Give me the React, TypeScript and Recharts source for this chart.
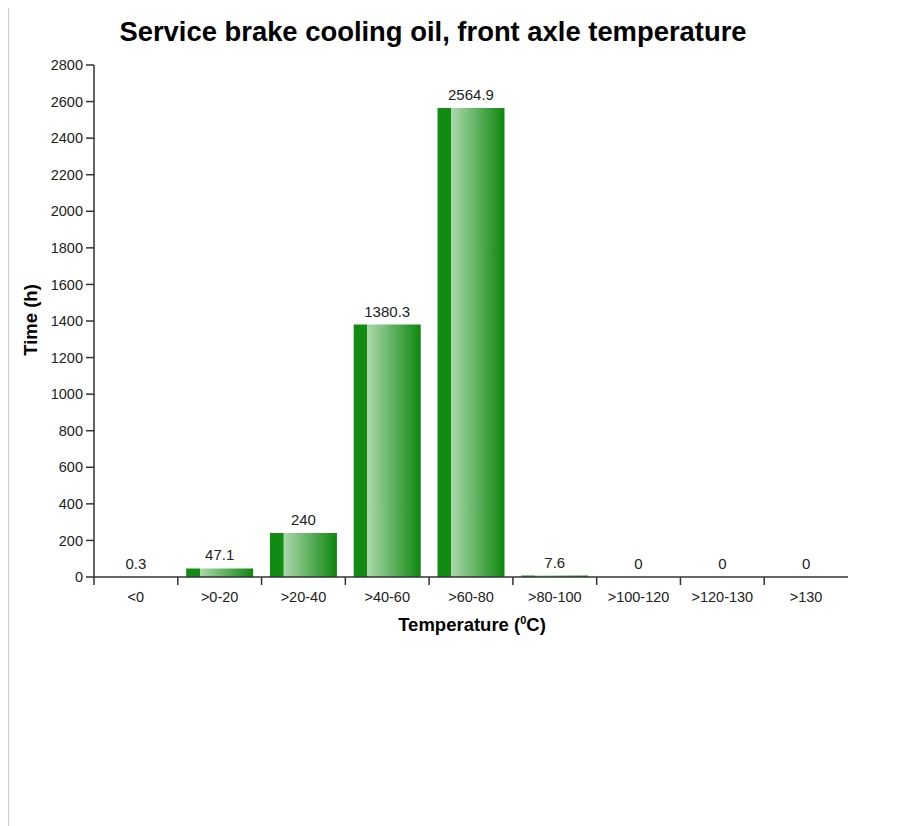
import React from 'react';
import { BarChart, Bar, XAxis, YAxis, LabelList, Customized } from 'recharts';

const categories = ['<0', '>0-20', '>20-40', '>40-60', '>60-80', '>80-100', '>100-120', '>120-130', '>130'];
const hours = [0.3, 47.1, 240, 1380.3, 2564.9, 7.6, 0, 0, 0];
const yTicks = [0, 200, 400, 600, 800, 1000, 1200, 1400, 1600, 1800, 2000, 2200, 2400, 2600, 2800];

const data = categories.map((name, i) => ({ name, hours: hours[i] }));

const FONT = 'Arial, "Liberation Sans", Helvetica, sans-serif';

// category axis with tick marks on the band boundaries, like the original
function BoundaryTick(props: any) {
  const { x, y, payload, width } = props;
  const half = width / categories.length / 2;
  return (
    <g>
      <line x1={x - half} y1={y} x2={x - half} y2={y + 8} stroke="#333" strokeWidth={1.5} />
      <text x={x} y={y + 25} textAnchor="middle" fill="#222" fontSize={14.5} fontFamily={FONT}>
        {payload.value}
      </text>
    </g>
  );
}

function Titles() {
  return (
    <g fontFamily={FONT} fill="#000" fontWeight="bold">
      <text x={424} y={33} textAnchor="middle" fontSize={27.4}>
        Service brake cooling oil, front axle temperature
      </text>
      <text x={28} y={312} textAnchor="middle" fontSize={18.5} transform="rotate(-90, 28, 312)">
        Time (h)
      </text>
      <text x={463} y={623} textAnchor="middle" fontSize={18.5}>
        Temperature (<tspan fontSize={11} dy={-7}>0</tspan>
        <tspan dy={7}>C)</tspan>
      </text>
    </g>
  );
}

export default function App() {
  return (
    <div style={{ position: 'relative', borderLeft: '1px solid #ccc', height: 818, width: 900 }}>
      <BarChart
        width={880}
        height={700}
        data={data}
        margin={{ top: 57, right: 41, left: 0, bottom: 71 }}
        barCategoryGap="10%"
      >
        <defs>
          <linearGradient id="barGreen" x1="0" y1="0" x2="1" y2="0">
            <stop offset="0%" stopColor="#128b12" />
            <stop offset="20%" stopColor="#128b12" />
            <stop offset="20.5%" stopColor="#acd8ac" />
            <stop offset="100%" stopColor="#0d870d" />
          </linearGradient>
        </defs>
        <XAxis
          dataKey="name"
          height={60}
          interval={0}
          tickSize={0}
          tickMargin={0}
          tickLine={false}
          tick={<BoundaryTick />}
          axisLine={{ stroke: '#333', strokeWidth: 1.5 }}
        />
        <YAxis
          width={85}
          domain={[0, 2800]}
          ticks={yTicks}
          interval={0}
          tickSize={8}
          tickMargin={3}
          tick={{ fill: '#222', fontSize: 14.5, fontFamily: FONT }}
          tickLine={{ stroke: '#333', strokeWidth: 1.5 }}
          axisLine={{ stroke: '#333', strokeWidth: 1.5 }}
        />
        <Bar dataKey="hours" fill="url(#barGreen)" minPointSize={0.01} isAnimationActive={false}>
          <LabelList
            dataKey="hours"
            position="top"
            offset={8}
            fill="#222"
            fontSize={15}
            fontFamily={FONT}
          />
        </Bar>
        <Customized component={<Titles />} />
      </BarChart>
    </div>
  );
}
